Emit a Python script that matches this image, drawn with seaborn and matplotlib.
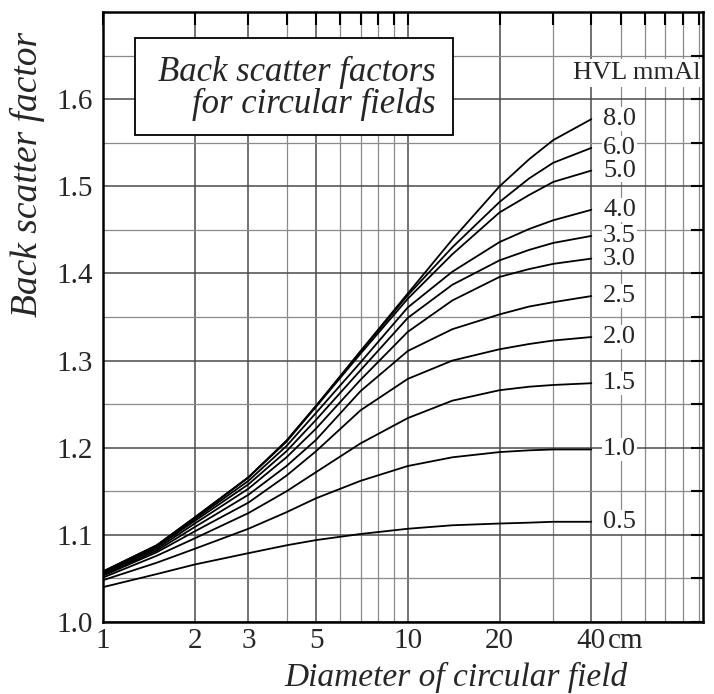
import matplotlib
matplotlib.use("Agg")
import matplotlib.pyplot as plt
from matplotlib.patches import Rectangle
from matplotlib.ticker import FixedLocator, FixedFormatter, NullFormatter
import pandas as pd
import seaborn as sns

diameter_cm = [1, 1.5, 2, 3, 4, 5, 7, 10, 14, 20, 25, 30, 40]

# back scatter factor per half value layer (mm Al)
bsf_8_0 = [1.057, 1.087, 1.119, 1.166, 1.208, 1.248, 1.311, 1.377, 1.439, 1.500, 1.531, 1.553, 1.577]
bsf_6_0 = [1.058, 1.088, 1.120, 1.166, 1.208, 1.248, 1.310, 1.375, 1.430, 1.482, 1.509, 1.527, 1.544]
bsf_5_0 = [1.058, 1.088, 1.120, 1.166, 1.207, 1.247, 1.308, 1.371, 1.422, 1.470, 1.490, 1.505, 1.518]
bsf_4_0 = [1.057, 1.087, 1.118, 1.162, 1.202, 1.240, 1.298, 1.361, 1.402, 1.436, 1.451, 1.461, 1.473]
bsf_3_5 = [1.056, 1.086, 1.116, 1.158, 1.196, 1.232, 1.289, 1.349, 1.387, 1.415, 1.427, 1.435, 1.443]
bsf_3_0 = [1.055, 1.084, 1.113, 1.153, 1.189, 1.222, 1.278, 1.333, 1.369, 1.396, 1.405, 1.411, 1.417]
bsf_2_5 = [1.054, 1.082, 1.109, 1.146, 1.179, 1.209, 1.265, 1.311, 1.336, 1.353, 1.362, 1.367, 1.374]
bsf_2_0 = [1.053, 1.080, 1.104, 1.137, 1.168, 1.196, 1.243, 1.279, 1.300, 1.313, 1.319, 1.323, 1.327]
bsf_1_5 = [1.051, 1.076, 1.096, 1.125, 1.150, 1.172, 1.205, 1.234, 1.254, 1.266, 1.270, 1.272, 1.274]
bsf_1_0 = [1.048, 1.068, 1.084, 1.107, 1.126, 1.142, 1.162, 1.179, 1.189, 1.195, 1.197, 1.198, 1.198]
bsf_0_5 = [1.040, 1.055, 1.066, 1.079, 1.088, 1.094, 1.101, 1.107, 1.111, 1.113, 1.114, 1.115, 1.115]

hvl_labels = ["8.0", "6.0", "5.0", "4.0", "3.5", "3.0", "2.5", "2.0", "1.5", "1.0", "0.5"]
hvl_series = [bsf_8_0, bsf_6_0, bsf_5_0, bsf_4_0, bsf_3_5, bsf_3_0,
              bsf_2_5, bsf_2_0, bsf_1_5, bsf_1_0, bsf_0_5]

x_ticks = [1, 2, 3, 5, 10, 20, 40]
x_tick_labels = ["1", "2", "3", "5", "10", "20", "40"]
y_ticks = [1.0, 1.1, 1.2, 1.3, 1.4, 1.5, 1.6]

rows = []
for lab, vals in zip(hvl_labels, hvl_series):
    for d, v in zip(diameter_cm, vals):
        rows.append({"diameter": d, "bsf": v, "hvl": lab})
df = pd.DataFrame(rows)

sns.set_style("white")
plt.rcParams['font.family'] = ['Liberation Serif', 'DejaVu Serif']

fig = plt.figure(figsize=(7.14, 6.94), dpi=100)
ax = fig.add_axes([103 / 714, 1 - 622 / 694, 600 / 714, 610 / 694])

sns.lineplot(data=df, x="diameter", y="bsf", hue="hvl", hue_order=hvl_labels,
             palette={h: "black" for h in hvl_labels}, estimator=None, sort=False,
             legend=False, lw=1.3, ax=ax, zorder=3)

ax.set_xscale("log")
ax.set_xlim(1, 93)
ax.set_ylim(1.0, 1.70)

minor_x = [m * 10 ** e for e in (0, 1) for m in range(1, 10)]
minor_x = [v for v in minor_x if v not in x_ticks and v < 93]
ax.xaxis.set_major_locator(FixedLocator(x_ticks))
ax.xaxis.set_major_formatter(FixedFormatter(x_tick_labels))
ax.xaxis.set_minor_locator(FixedLocator(minor_x))
ax.xaxis.set_minor_formatter(NullFormatter())
ax.yaxis.set_major_locator(FixedLocator(y_ticks))
ax.yaxis.set_minor_locator(FixedLocator([1.05, 1.15, 1.25, 1.35, 1.45, 1.55, 1.65]))
ax.set_yticklabels([f"{v:.1f}" for v in y_ticks])

ax.grid(which="major", color="#4a4a4a", lw=1.1)
ax.grid(which="minor", color="#8a8a8a", lw=0.9)
ax.set_axisbelow(True)

ax.tick_params(which="both", direction="in", length=9, width=1.5,
               top=True, right=True, color="black")
ax.tick_params(axis="x", which="major", labelsize=21, pad=4)
ax.tick_params(axis="y", which="major", labelsize=21, pad=7)
for s in ax.spines.values():
    s.set_linewidth(1.8)
    s.set_color("black")
    s.set_zorder(5)

ax.set_xlabel("Diameter of circular field", fontsize=24, style="italic", va="baseline")
ax.xaxis.set_label_coords(0.588, -0.105)
ax.set_ylabel("Back scatter factor", fontsize=27, style="italic")
ax.yaxis.set_label_coords(-0.097, 0.734)

ax.annotate("cm", xy=(40, 0), xycoords=("data", "axes fraction"),
            xytext=(12, -4), textcoords="offset points",
            ha="left", va="top", fontsize=21)

# curve labels at the end of each line
for lab, vals in zip(hvl_labels, hvl_series):
    ax.text(49.5, vals[-1], lab, ha="center", va="center", fontsize=19, zorder=4,
            bbox=dict(fc="white", ec="none", pad=0.5))

ax.text(56.5, 1.630, "HVL mmAl", ha="center", va="center", fontsize=19, zorder=4,
        bbox=dict(fc="white", ec="none", pad=2))

ax.add_patch(Rectangle((32 / 600, 487 / 610), 318 / 600, 97 / 610,
                       transform=ax.transAxes, fc="white", ec="black", lw=1.3, zorder=4))
ax.text(0.3225, 0.875, "Back scatter factors\nfor circular fields",
        transform=ax.transAxes, ha="center", va="center", multialignment="right",
        fontsize=25, style="italic", linespacing=0.95, zorder=5)

fig.savefig("out.png", dpi=100)
